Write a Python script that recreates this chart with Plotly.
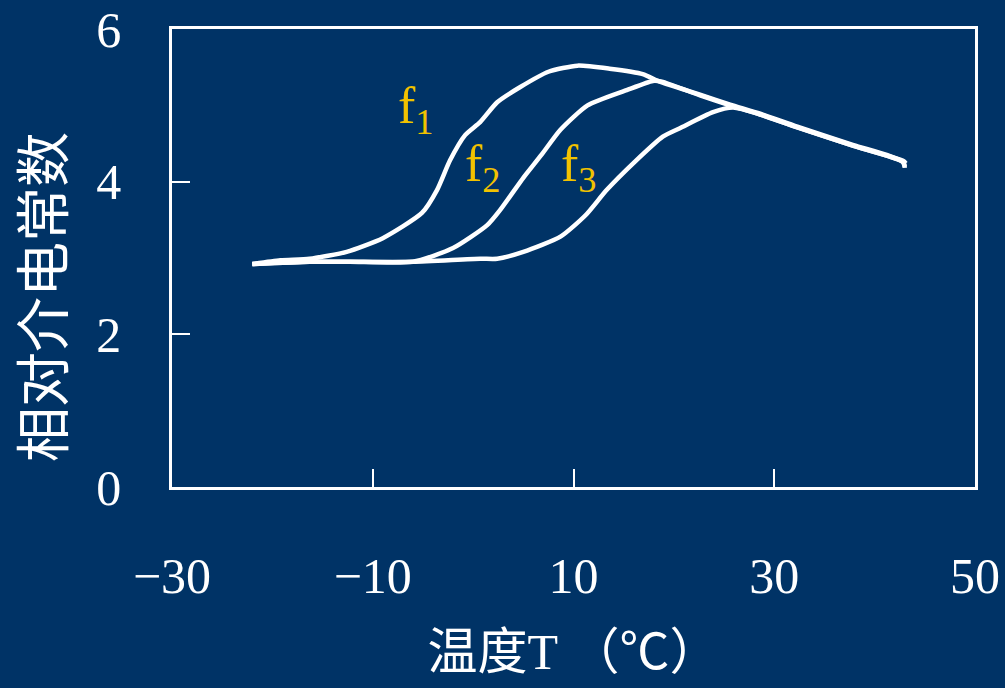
import plotly.graph_objects as go

# ---- data ----
f1_T = [-22.0, -19.2, -16.3, -12.6, -9.0, -5.1, -3.6, -2.3, -0.8, 0.7, 2.4, 4.7, 7.5, 10.4, 13.6, 16.9, 18.6, 22.6, 25.6, 28.6, 32.3, 37.9, 41.2, 42.8, 43.0]
f1_e = [2.92, 2.97, 2.99, 3.08, 3.26, 3.59, 3.89, 4.28, 4.61, 4.78, 5.04, 5.24, 5.44, 5.52, 5.48, 5.41, 5.31, 5.14, 5.01, 4.89, 4.72, 4.48, 4.35, 4.26, 4.20]

f2_T = [-22.0, -16.3, -12.3, -6.0, -2.0, 1.4, 2.7, 5.0, 6.8, 8.7, 11.4, 15.3, 17.9, 18.8, 22.6, 25.6, 28.6, 32.3, 37.9, 41.2, 42.9, 43.1]
f2_e = [2.92, 2.95, 2.95, 2.95, 3.13, 3.43, 3.63, 4.05, 4.35, 4.68, 5.00, 5.20, 5.32, 5.31, 5.13, 5.00, 4.88, 4.71, 4.47, 4.34, 4.27, 4.24]

f3_T = [-22.0, -16.3, -12.3, -6.0, 0.7, 2.4, 5.0, 8.7, 11.2, 13.3, 16.1, 18.9, 20.6, 23.9, 25.9, 28.6, 32.3, 37.9, 41.2, 42.9, 43.0]
f3_e = [2.92, 2.95, 2.95, 2.95, 2.99, 2.99, 3.08, 3.28, 3.56, 3.89, 4.26, 4.59, 4.70, 4.91, 4.97, 4.88, 4.71, 4.47, 4.34, 4.25, 4.18]

series = [("f1", f1_T, f1_e), ("f2", f2_T, f2_e), ("f3", f3_T, f3_e)]

labels = [("f", "1", -7.7, 4.50), ("f", "2", -1.0, 3.73), ("f", "3", 8.6, 3.73)]

x_ticks = [-30, -10, 10, 30, 50]
y_ticks = [0, 2, 4, 6]

BG = "#003366"
GOLD = "#F2C200"
SERIF = "Liberation Serif, Times New Roman, Noto Sans CJK SC, serif"
CJK = "Liberation Serif, Noto Sans CJK SC, serif"

fig = go.Figure()
for name, xs, ys in series:
    fig.add_trace(go.Scatter(x=xs, y=ys, mode="lines", name=name,
                             line=dict(color="white", width=4.5, shape="spline", smoothing=0.6),
                             showlegend=False, hoverinfo="skip"))

for base, sub, x, y in labels:
    fig.add_annotation(x=x, y=y, xref="x", yref="y", xanchor="left", yanchor="bottom",
                       text=f"{base}<sub>{sub}</sub>", showarrow=False,
                       font=dict(family=SERIF, size=52, color=GOLD))

# y-axis title (placed lower than the plot middle, as in the reference)
fig.add_annotation(x=-0.158, y=0.415, xref="paper", yref="paper", xanchor="center", yanchor="middle",
                   text="相对介电常数", textangle=-90, showarrow=False,
                   font=dict(family=CJK, size=55, color="white"))

fig.update_layout(
    width=1005, height=688,
    paper_bgcolor=BG, plot_bgcolor=BG,
    margin=dict(l=172, r=30, t=29, b=201, autoexpand=False),
    font=dict(family=SERIF, color="white", size=50),
)
fig.update_xaxes(range=[-30, 50], tickvals=x_ticks, ticktext=["\u221230", "\u221210", "10", "30", "50"],
                 ticks="inside", ticklen=18, tickwidth=1.5, tickcolor="white",
                 showline=True, linewidth=2.5, linecolor="white", mirror=True,
                 showgrid=False, zeroline=False, automargin=False,
                 tickfont=dict(family=SERIF, size=50, color="white"),
                 ticklabelstandoff=43,
                 title=dict(text="温度T （℃）", font=dict(family=CJK, size=50, color="white"), standoff=32))
fig.update_yaxes(range=[0, 6], tickvals=y_ticks,
                 ticks="inside", ticklen=18, tickwidth=1.5, tickcolor="white",
                 showline=True, linewidth=2.5, linecolor="white", mirror=True,
                 showgrid=False, zeroline=False, automargin=False,
                 tickfont=dict(family=SERIF, size=50, color="white"),
                 ticklabelstandoff=38)

fig.write_html("out.html", config={"displayModeBar": False},
               post_script="document.body.style.margin='0';document.body.style.background='#003366';")
